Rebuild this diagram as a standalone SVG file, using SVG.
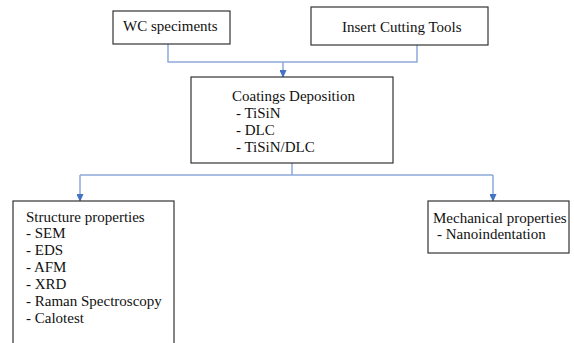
<svg xmlns="http://www.w3.org/2000/svg" width="574" height="343" viewBox="0 0 574 343">
<defs>
<marker id="ah" markerWidth="8" markerHeight="7" refX="7" refY="3.5" orient="auto" markerUnits="userSpaceOnUse">
<path d="M0,0 L8,3.5 L0,7 Z" fill="#4472C4"/>
</marker>
<style>
.box{fill:#fff;stroke:#333;stroke-width:1.2}
.t{font-family:"Liberation Serif","Times New Roman",serif;font-size:15px;fill:#111}
.c{fill:none;stroke:#8EA9DB;stroke-width:1.5}
</style>
</defs>
<rect width="574" height="343" fill="#fff"/>
<g id="connectors">
<path class="c" d="M168,44 V62 H417 V45"/>
<path class="c" d="M283,62 V77" marker-end="url(#ah)"/>
<path class="c" d="M292,163 V175"/>
<path class="c" d="M80,175 H493"/>
<path class="c" d="M80,175 V201" marker-end="url(#ah)"/>
<path class="c" d="M493,175 V201" marker-end="url(#ah)"/>
</g>
<g id="wc">
<rect class="box" x="113" y="11" width="117" height="33"/>
<text class="t" x="123" y="31">WC speciments</text>
</g>
<g id="insert">
<rect class="box" x="311" y="7" width="177" height="38"/>
<text class="t" x="342" y="32">Insert Cutting Tools</text>
</g>
<g id="coatings">
<rect class="box" x="191" y="77" width="202" height="86"/>
<text class="t" x="232" y="101">Coatings Deposition</text>
<text class="t" x="236" y="118">- TiSiN</text>
<text class="t" x="236" y="135">- DLC</text>
<text class="t" x="236" y="152">- TiSiN/DLC</text>
</g>
<g id="structure">
<rect class="box" x="13" y="201" width="161" height="150"/>
<text class="t" x="26" y="222">Structure properties</text>
<text class="t" x="26" y="238">- SEM</text>
<text class="t" x="26" y="255">- EDS</text>
<text class="t" x="26" y="272">- AFM</text>
<text class="t" x="26" y="289">- XRD</text>
<text class="t" x="26" y="306">- Raman Spectroscopy</text>
<text class="t" x="26" y="323">- Calotest</text>
</g>
<g id="mechanical">
<rect class="box" x="428" y="201" width="141" height="52"/>
<text class="t" x="433" y="223">Mechanical properties</text>
<text class="t" x="437" y="239">- Nanoindentation</text>
</g>
</svg>
